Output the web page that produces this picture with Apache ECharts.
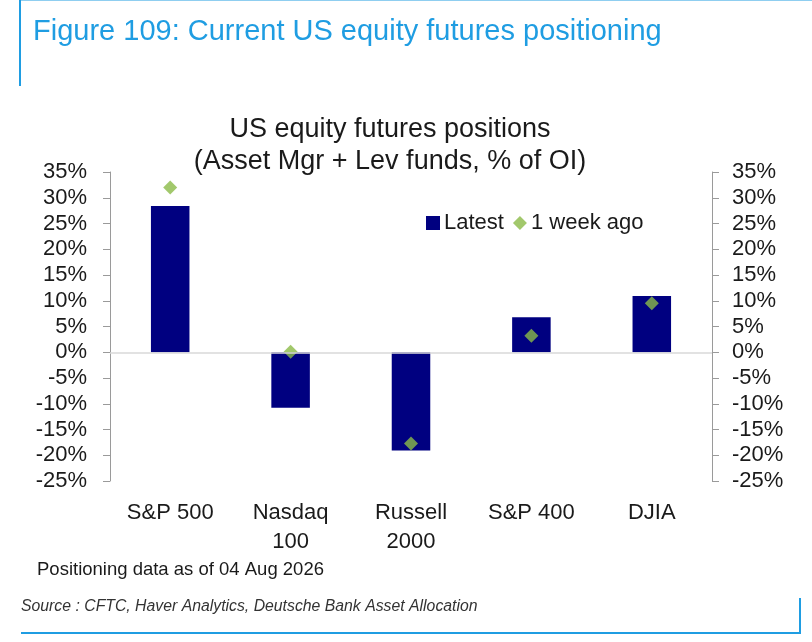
<!DOCTYPE html>
<html lang="en">
<head>
  <meta charset="UTF-8">
  <title>US equity futures positions</title>
  <style>
    html, body {
      margin: 0;
      padding: 0;
      background: #fff;
    }
    #chart {
      width: 812px;
      height: 642px;
    }
  </style>
</head>
<body>
<div id="chart"></div>

<script src="https://cdn.jsdelivr.net/npm/echarts@6/dist/echarts.min.js"></script>
<script>
  // values (% of open interest)
  const categories = ['S&P 500', 'Nasdaq\n100', 'Russell\n2000', 'S&P 400', 'DJIA'];
  const latest = [28.4, -10.8, -19.1, 6.8, 10.9];
  const weekAgo = [32.0, 0.1, -17.7, 3.2, 9.5];
  const yMin = -25, yMax = 35, yStep = 5;

  const font = "'Liberation Sans', Arial, Helvetica, sans-serif";
  const blue = '#1f9de2';
  const navy = '#000080';
  const green = '#8bba47';

  const chart = echarts.init(document.getElementById('chart'), null, {renderer: 'canvas'});

  function valueAxis(pos) {
    return {
      type: 'value',
      position: pos,
      min: yMin,
      max: yMax,
      interval: yStep,
      splitLine: {show: false},
      axisLine: {show: true, lineStyle: {color: '#9a9a9a', width: 1}},
      axisTick: {show: true, length: 7, lineStyle: {color: '#9a9a9a'}},
      axisLabel: {
        formatter: v => v + '%',
        color: '#1a1a1a',
        fontSize: 22,
        fontFamily: font,
        margin: pos === 'left' ? 23 : 20
      }
    };
  }

  function txt(size, extra) {
    return Object.assign({color: '#1a1a1a', fontSize: size, fontWeight: 'normal', fontFamily: font}, extra || {});
  }

  chart.setOption({
    animation: false,
    title: [
      {
        text: 'Figure 109: Current US equity futures positioning',
        left: 33, top: 17, padding: 0,
        textStyle: txt(29, {color: blue})
      },
      {
        text: 'US equity futures positions',
        left: 390, top: 116, padding: 0, textAlign: 'center',
        textStyle: txt(27)
      },
      {
        text: '(Asset Mgr + Lev funds, % of OI)',
        left: 390, top: 148, padding: 0, textAlign: 'center',
        textStyle: txt(27)
      },
      {
        text: 'Positioning data as of 04 Aug 2026',
        left: 37, top: 560, padding: 0,
        textStyle: txt(18.5)
      },
      {
        text: 'Source : CFTC, Haver Analytics, Deutsche Bank Asset Allocation',
        left: 21, top: 599, padding: 0,
        textStyle: txt(15.8, {color: '#333', fontStyle: 'italic'})
      }
    ],
    legend: {
      left: 421, top: 207,
      itemWidth: 14, itemHeight: 14,
      itemGap: 9,
      selectedMode: false,
      textStyle: txt(22, {padding: [0, 0, 0, -1]}),
      data: [
        {name: 'Latest', icon: 'rect'},
        {name: '1 week ago', icon: 'diamond'}
      ]
    },
    grid: {left: 110, right: 100, top: 172, bottom: 161},
    xAxis: {
      type: 'category',
      data: categories,
      axisLine: {show: false},
      axisTick: {show: false},
      axisLabel: {
        color: '#1a1a1a', fontSize: 22, fontFamily: font,
        lineHeight: 29, margin: 17, interval: 0
      }
    },
    yAxis: [valueAxis('left'), valueAxis('right')],
    series: [
      {
        name: 'Latest',
        type: 'bar',
        data: latest,
        barWidth: '32%',
        itemStyle: {color: navy},
        markLine: {
          silent: true,
          symbol: 'none',
          label: {show: false},
          lineStyle: {color: '#d9d9d9', type: 'solid', width: 1.5},
          data: [{yAxis: 0}]
        },
        z: 2
      },
      {
        name: '1 week ago',
        type: 'scatter',
        data: weekAgo,
        symbol: 'diamond',
        symbolSize: [14, 14],
        itemStyle: {color: green},
        z: 3
      }
    ],
    graphic: [
      {type: 'line', shape: {x1: 20, y1: 0, x2: 20, y2: 86}, style: {stroke: blue, lineWidth: 2}},
      {type: 'line', shape: {x1: 20, y1: 0.5, x2: 812, y2: 0.5}, style: {stroke: blue, lineWidth: 1, opacity: 0.5}},
      {type: 'line', shape: {x1: 21, y1: 633, x2: 801, y2: 633}, style: {stroke: blue, lineWidth: 2}},
      {type: 'line', shape: {x1: 800, y1: 598, x2: 800, y2: 634}, style: {stroke: blue, lineWidth: 2}}
    ]
  });
</script>
</body>
</html>
